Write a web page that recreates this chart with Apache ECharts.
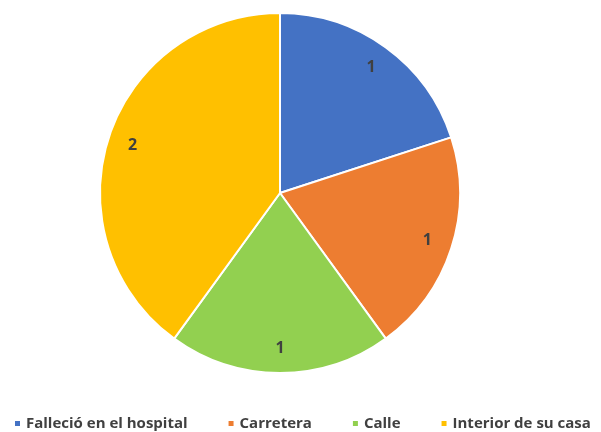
<!DOCTYPE html>
<html>
<head>
<meta charset="utf-8">
<script src="https://cdn.jsdelivr.net/npm/echarts@6/dist/echarts.min.js"></script>
<style>html,body{margin:0;padding:0;background:#fff}#main{width:601px;height:432px}</style>
</head>
<body>
<div id="main"></div>
<script>
var categories = ['Falleció en el hospital', 'Carretera', 'Calle', 'Interior de su casa'];
var values = [1, 1, 1, 2];
var colors = ['#4472C4', '#ED7D31', '#92D050', '#FFC000'];

var myChart = echarts.init(document.getElementById('main'));
var data = categories.map(function (c, i) {
    return { name: c, value: values[i], itemStyle: { color: colors[i] } };
});
var option = {
    backgroundColor: '#fff',
    animation: false,
    legend: {
        bottom: -4,
        left: 8,
        icon: 'rect',
        itemWidth: 7,
        itemHeight: 7,
        itemGap: 39,
        textStyle: { fontFamily: 'Open Sans', fontWeight: 'bold', fontSize: 15, color: '#404040' },
        data: categories
    },
    series: [{
        type: 'pie',
        center: [280, 193],
        radius: [0, 180],
        startAngle: 90,
        clockwise: true,
        label: { show: false },
        labelLine: { show: false },
        itemStyle: { borderColor: '#fff', borderWidth: 2 },
        data: data
    }, {
        // capa invisible solo para colocar las etiquetas cerca del borde
        type: 'pie',
        silent: true,
        center: [280, 193],
        radius: [124, 180],
        startAngle: 90,
        clockwise: true,
        legendHoverLink: false,
        label: {
            show: true,
            position: 'inside',
            formatter: '{c}',
            fontFamily: 'Open Sans',
            fontWeight: 'bold',
            fontSize: 16,
            color: '#404040'
        },
        labelLine: { show: false },
        itemStyle: { color: 'transparent' },
        data: categories.map(function (c, i) { return { name: c, value: values[i] }; })
    }]
};
myChart.setOption(option);
</script>
</body>
</html>
